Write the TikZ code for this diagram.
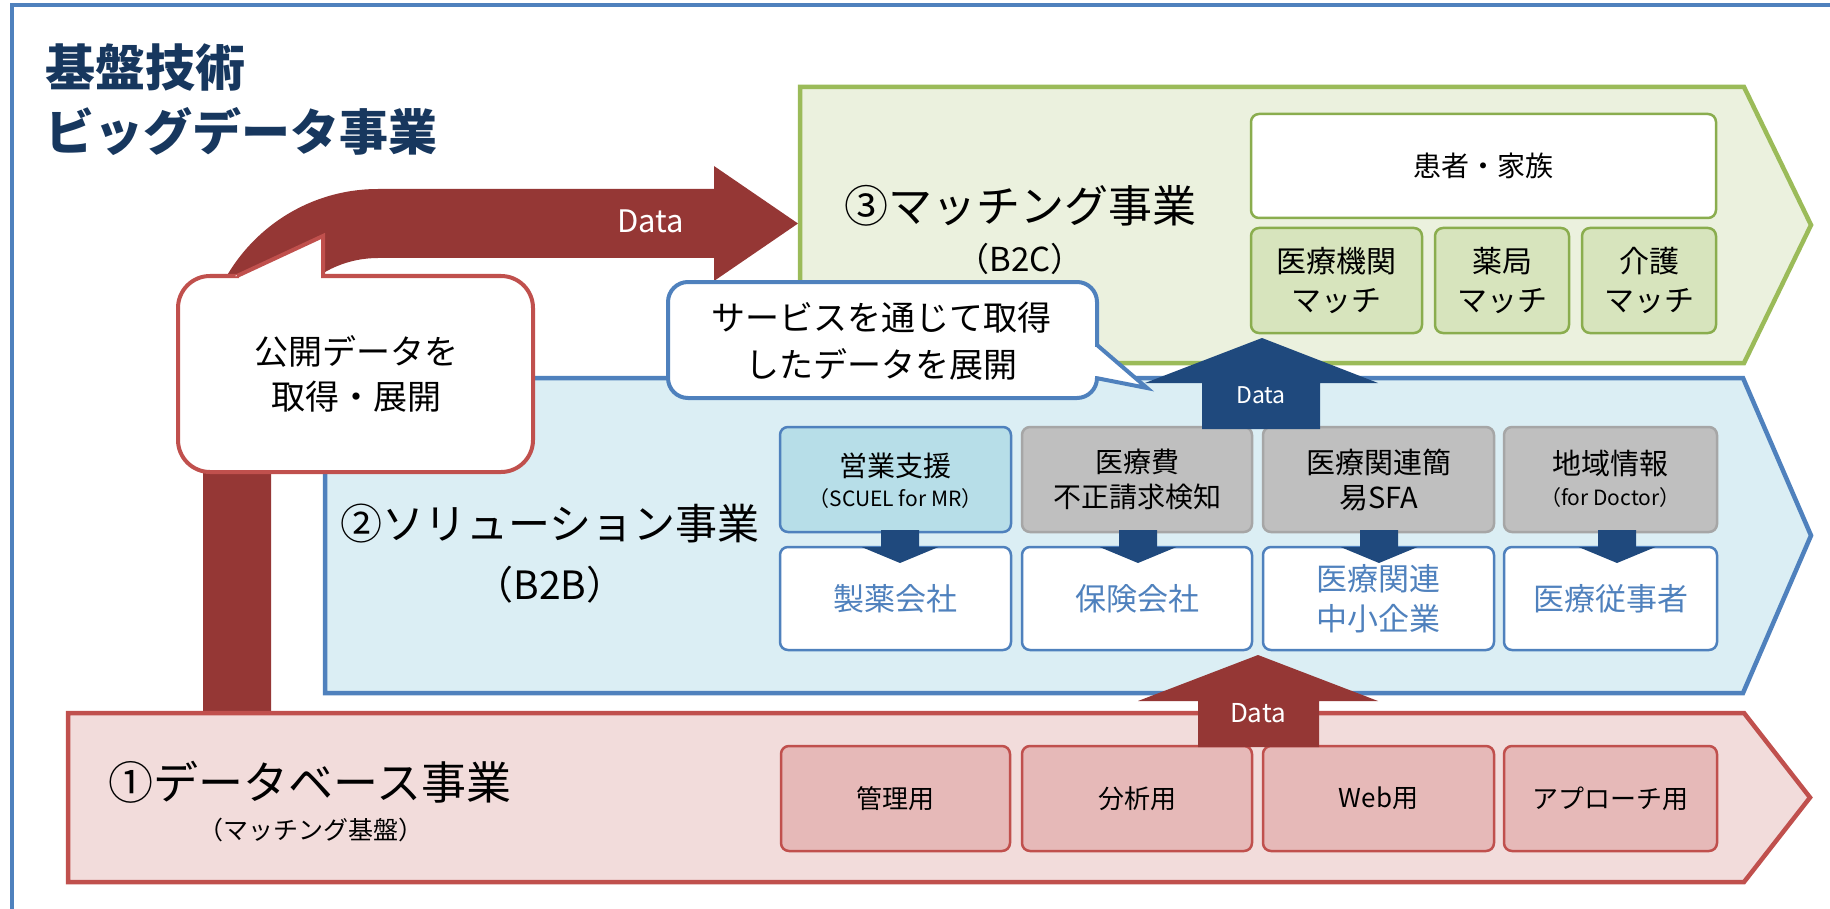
\documentclass[tikz,border=0pt]{standalone}
\usepackage{fontspec}
\setmainfont{Noto Sans CJK JP}
\newcommand\fsz[2]{\fontsize{#1}{#2}\selectfont}
\definecolor{frameblue}{HTML}{4F81BD}
\definecolor{titleblue}{HTML}{17375E}
\definecolor{gfill}{HTML}{EBF1DE}
\definecolor{gline}{HTML}{9BBB59}
\definecolor{gin}{HTML}{D7E4BD}
\definecolor{gline2}{HTML}{8AAD4E}
\definecolor{bfill}{HTML}{DBEEF4}
\definecolor{bline}{HTML}{4F81BD}
\definecolor{cyanbox}{HTML}{B7DEE8}
\definecolor{grayfill}{HTML}{BFBFBF}
\definecolor{grayline}{HTML}{A6A6A6}
\definecolor{rfill}{HTML}{F2DCDB}
\definecolor{rline}{HTML}{C0504D}
\definecolor{rin}{HTML}{E6B9B8}
\definecolor{dred}{HTML}{953735}
\definecolor{navy}{HTML}{1F497D}
\tikzset{
  txt/.style={inner sep=0pt, align=center},
  ibox/.style={rounded corners=8pt, line width=2.5pt, inner sep=0pt, align=center},
  gbox/.style={ibox, draw=gline2, fill=gin, minimum height=105pt, font=\fsz{30}{39}},
  wgbox/.style={ibox, draw=gline2, fill=white, font=\fsz{28}{34}},
  cbox/.style={ibox, draw=bline, fill=cyanbox, minimum height=105pt},
  graybox/.style={ibox, draw=grayline, fill=grayfill, minimum height=105pt, font=\fsz{28}{35}},
  whbox/.style={ibox, draw=bline, fill=white, minimum height=103pt, text=bline, font=\fsz{31}{40}},
  rbox/.style={ibox, draw=rline, fill=rin, minimum height=105pt, font=\fsz{26}{32}},
  pent/.style={line width=4.5pt, line join=miter},
  bubble/.style={fill=white, line width=4pt},
  datatxt/.style={txt, text=white},
}
\begin{document}
\begin{tikzpicture}[x=1pt,y=-1pt]
\useasboundingbox (0,0) rectangle (1830,909);
\fill[white] (0,0) rectangle (1830,909);
% outer frame
\draw[frameblue, line width=4pt] (12,915) -- (12,5) -- (1840,5);
% title
\node[txt, anchor=west, text=titleblue, font=\bfseries\fsz{50}{60}] (title1) at (45,68) {基盤技術};
\node[txt, anchor=west, text=titleblue, font=\bfseries\fsz{49}{60}] (title2) at (45,132) {ビッグデータ事業};
% curved red arrow
\fill[dred] (203,713) -- (203,364) .. controls (203,267.4) and (281.4,189) .. (378,189) -- (714,189) -- (714,166) -- (798,223.5) -- (714,281) -- (714,258) -- (378,258) .. controls (318.9,258) and (271,305.9) .. (271,365) -- (271,713) -- cycle;
\node[datatxt, font=\fsz{31}{36}] (data1) at (651,221) {Data};
% pentagons
\filldraw[pent, fill=gfill, draw=gline] (800,87) -- (1744,87) -- (1811,225) -- (1744,363) -- (800,363) -- cycle;
\filldraw[pent, fill=bfill, draw=bline] (325,378) -- (1743,378) -- (1811,535.5) -- (1743,693) -- (325,693) -- cycle;
\filldraw[pent, fill=rfill, draw=rline] (68,713) -- (1744,713) -- (1810,797.5) -- (1744,882) -- (68,882) -- cycle;
% section titles
\node[txt, font=\fsz{44}{50}] (t3) at (1020,206) {③マッチング事業};
\node[txt, font=\fsz{33}{38}] (t3b) at (1020,259) {（B2C）};
\node[txt, font=\fsz{42}{50}] (t2) at (550,524) {②ソリューション事業};
\node[txt, font=\fsz{39}{44}] (t2b) at (550,585) {（B2B）};
\node[txt, font=\fsz{45}{50}] (t1) at (310,782) {①データベース事業};
\node[txt, font=\fsz{25}{30}] (t1b) at (311,830) {（マッチング基盤）};
% green boxes
\node[wgbox, minimum width=465pt, minimum height=104pt] (patient) at (1483.5,166) {患者・家族};
\node[gbox, minimum width=171pt] (m1) at (1336.5,280.5) {医療機関\\マッチ};
\node[gbox, minimum width=134pt] (m2) at (1502,280.5) {薬局\\マッチ};
\node[gbox, minimum width=134pt] (m3) at (1649,280.5) {介護\\マッチ};
% blue upper row
\node[cbox, minimum width=231pt] (s1) at (895.5,479.5) {};
\node[txt, font=\fsz{28}{34}] (s1a) at (895.5,466) {営業支援};
\node[txt, font=\fsz{21}{24}] (s1b) at (895.5,498.5) {（SCUEL for MR）};
\node[graybox, minimum width=230pt] (s2) at (1137,479.5) {医療費\\不正請求検知};
\node[graybox, minimum width=231pt, font=\fsz{29}{35}] (s3) at (1378.5,479.5) {医療関連簡\\易SFA};
\node[graybox, minimum width=213pt] (s4) at (1610.5,479.5) {};
\node[txt, font=\fsz{29}{34}] (s4a) at (1610.5,464) {地域情報};
\node[txt, font=\fsz{21}{24}] (s4b) at (1610.5,498) {（for Doctor）};
% white row
\node[whbox, minimum width=231pt] (w1) at (895.5,598.5) {製薬会社};
\node[whbox, minimum width=230pt] (w2) at (1137,598.5) {保険会社};
\node[whbox, minimum width=231pt] (w3) at (1378.5,598.5) {医療関連\\中小企業};
\node[whbox, minimum width=213pt] (w4) at (1610.5,598.5) {医療従事者};
% small arrows
\foreach \cx in {900,1138,1379,1617}{
  \fill[navy] (\cx-19,530) -- (\cx+19,530) -- (\cx+19,547) -- (\cx+38.5,547) -- (\cx,563) -- (\cx-38.5,547) -- (\cx-19,547) -- cycle;
}
% red row
\node[rbox, minimum width=229pt] (r1) at (895.5,798.5) {管理用};
\node[rbox, minimum width=230pt] (r2) at (1137,798.5) {分析用};
\node[rbox, minimum width=231pt] (r3) at (1378.5,798.5) {Web用};
\node[rbox, minimum width=213pt] (r4) at (1610.5,798.5) {アプローチ用};
% data arrows
\fill[navy] (1262,338) -- (1378,383) -- (1320,383) -- (1320,429) -- (1202,429) -- (1202,383) -- (1145,383) -- cycle;
\node[datatxt, font=\fsz{23}{28}] (data2) at (1261,395) {Data};
\fill[dred] (1258,655) -- (1378,701) -- (1319,701) -- (1319,747) -- (1198,747) -- (1198,701) -- (1138,701) -- cycle;
\node[datatxt, font=\fsz{26}{30}] (data3) at (1258,713) {Data};
% red bubble
\filldraw[bubble, draw=rline, rounded corners=32pt] (178,276) rectangle (533,472);
\fill[white] (235,276) -- (323,236) -- (323,276) -- cycle;
\fill[white] (239,273) rectangle (321,278.5);
\draw[rline, line width=4pt, line join=miter] (237,276) -- (323,236) -- (323,277);
\node[txt, font=\fsz{34}{45}] (b1) at (356,373.5) {公開データを\\取得・展開};
% blue bubble
\filldraw[bubble, draw=bline, rounded corners=20pt] (668,282) rectangle (1097,398);
\fill[white] (1097,345) -- (1147,388) -- (1097,378) -- cycle;
\fill[white] (1094,347) rectangle (1099.5,376);
\draw[bline, line width=4pt, line join=miter] (1097,345) -- (1147,388) -- (1096,378);
\node[txt, font=\fsz{34}{47}] (b2) at (881,341.5) {サービスを通じて取得\\したデータを展開};
\end{tikzpicture}
\end{document}
